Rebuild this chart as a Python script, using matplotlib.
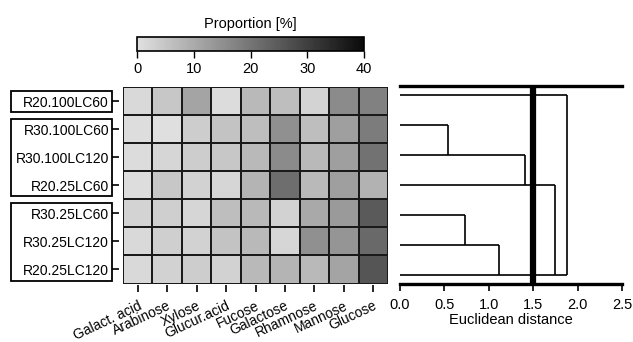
import numpy as np
import matplotlib
matplotlib.use("Agg")
import matplotlib.pyplot as plt
from matplotlib.colors import LinearSegmentedColormap
from matplotlib.patches import Rectangle
from matplotlib.transforms import blended_transform_factory

plt.rcParams['font.family'] = ['Liberation Sans', 'DejaVu Sans']

# ---------------- data ----------------
samples = ["R20.100LC60", "R30.100LC60", "R30.100LC120", "R20.25LC60",
           "R30.25LC60", "R30.25LC120", "R20.25LC120"]
sugars = ["Galact. acid", "Arabinose", "Xylose", "Glucur.acid", "Fucose",
          "Galactose", "Rhamnose", "Mannose", "Glucose"]

proportion = np.array([
    [1.3, 4.7, 11.2, 0.9, 7.4, 6.5, 2.4, 15.8, 17.7],
    [0.6, 0.2, 3.7, 5.6, 6.5, 14.9, 6.5, 12.1, 18.6],
    [0.9, 1.9, 3.7, 4.7, 7.4, 15.8, 7.4, 12.1, 20.5],
    [0.6, 4.7, 2.8, 1.9, 8.4, 21.4, 7.4, 12.1, 8.7],
    [2.4, 3.2, 1.9, 6.5, 7.4, 2.8, 10.2, 13.0, 25.1],
    [1.3, 3.2, 2.8, 5.6, 7.4, 1.9, 14.9, 14.0, 22.3],
    [1.3, 2.8, 3.7, 2.8, 7.4, 8.4, 7.4, 11.2, 26.0],
])

# dendrogram: length of each leaf line, then merges (height, upper row, lower row)
leaf_length = [1.88, 0.54, 1.41, 1.75, 0.73, 1.12, 1.88]
merge_height = [0.54, 1.41, 0.73, 1.12, 1.75, 1.88]
merge_top = [1, 2, 4, 5, 3, 0]
merge_bottom = [2, 3, 5, 6, 6, 6]
cut_height = 1.5

groups = [(0, 0), (1, 3), (4, 6)]

# ---------------- figure ----------------
W, H = 633, 342
fig = plt.figure(figsize=(W / 100, H / 100), dpi=100)

cmap = LinearSegmentedColormap.from_list("grey", ["#e0e0e0", "#0a0a0a"])

# heatmap
ax = fig.add_axes([123 / W, 1 - 283.5 / H, 265 / W, 196.5 / H])
for s in ax.spines.values():
    s.set_visible(False)
ax.spines['left'].set_position(('outward', 3))
ax.spines['bottom'].set_position(('outward', 1))

im = ax.pcolormesh(proportion, cmap=cmap, vmin=0, vmax=40,
                   edgecolors="#1a1a1a", linewidth=1.3)
ax.set_xlim(0, len(sugars))
ax.set_ylim(len(samples), 0)
ax.set_xticks(np.arange(len(sugars)) + 0.5)
ax.set_xticklabels(sugars, rotation=25, ha="right", rotation_mode="anchor",
                   fontsize=10)
ax.set_yticks(np.arange(len(samples)) + 0.5)
ax.set_yticklabels(samples, fontsize=10)
ax.tick_params(axis="y", length=5, width=1.2, pad=2)
ax.tick_params(axis="x", length=5, width=1.2, pad=5)

# boxes around groups of row labels
tr = blended_transform_factory(fig.transFigure, ax.transData)
for g0, g1 in groups:
    y0 = g0 + 0.5 - 0.37
    y1 = g1 + 0.5 + 0.40
    fig.patches.append(Rectangle((10.5 / W, y0), (112 - 10.5) / W, y1 - y0,
                                 transform=tr, fill=False, edgecolor="black",
                                 linewidth=1.3))

# colorbar
cax = fig.add_axes([137 / W, 1 - 51 / H, 227 / W, 14.5 / H])
cb = fig.colorbar(im, cax=cax, orientation="horizontal", ticks=[0, 10, 20, 30, 40])
cb.outline.set_linewidth(1.2)
cax.tick_params(length=5, width=1.0, labelsize=10.5, pad=3)
cax.set_title("Proportion [%]", fontsize=10.5, pad=6)

# dendrogram
dax = fig.add_axes([400 / W, 1 - 284 / H, 222 / W, 198 / H])
rows = np.arange(len(samples))
for r, L in zip(rows, leaf_length):
    dax.plot([0, L], [r, r], color="black", lw=1.2, solid_capstyle="butt")
for h, a, b in zip(merge_height, merge_top, merge_bottom):
    dax.plot([h, h], [a, b], color="black", lw=1.2, solid_capstyle="butt")
dax.axvline(cut_height, color="black", lw=4.5)
dax.set_xlim(0, 2.5)
dax.set_ylim(6.29, -0.31)
dax.set_yticks([])
dax.set_xticks([0, 0.5, 1.0, 1.5, 2.0, 2.5])
dax.set_xticklabels(["0.0", "0.5", "1.0", "1.5", "2.0", "2.5"])
dax.spines['left'].set_visible(False)
dax.spines['right'].set_visible(False)
dax.spines['top'].set_linewidth(2.4)
dax.spines['bottom'].set_linewidth(2.4)
dax.tick_params(axis="x", length=5, width=1.2, labelsize=10.5, pad=5)
dax.set_xlabel("Euclidean distance", fontsize=10.5, labelpad=1)

fig.savefig("out.png", dpi=100)
